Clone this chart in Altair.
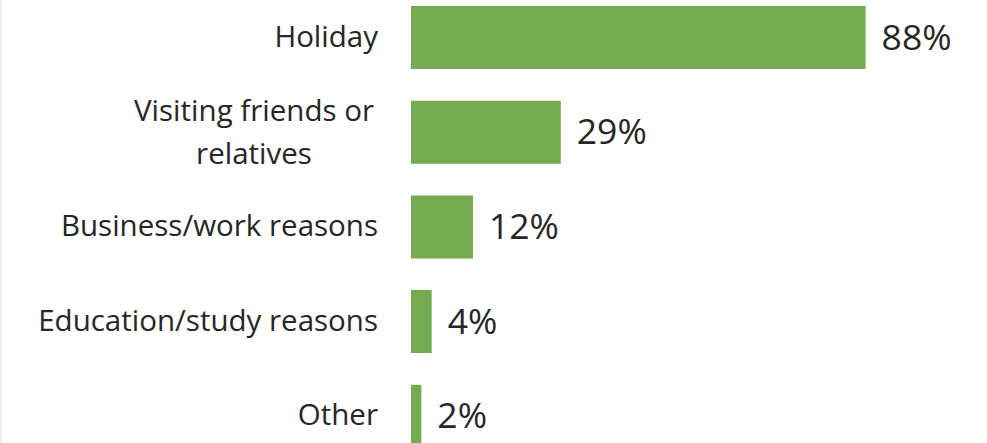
import altair as alt
import pandas as pd

categories = ["Holiday", "Visiting friends or relatives", "Business/work reasons",
              "Education/study reasons", "Other"]
display_labels = ["Holiday", "Visiting friends or\nrelatives", "Business/work reasons",
                  "Education/study reasons", "Other"]
wrapped = [False, True, False, False, False]
values = [88, 29, 12, 4, 2]

df = pd.DataFrame({"category": categories, "display": display_labels,
                   "wrapped": wrapped, "value": values})

FONT = "Open Sans"
GREEN = "#75AB50"
TEXT = "#262626"

yscale = alt.Scale(domain=categories, range=[-9.85, 463.65],
                   paddingInner=0.335, paddingOuter=0.1675)
xscale = alt.Scale(domain=[0, 111.5], nice=False)

base = alt.Chart(df)

bars = base.mark_bar(color=GREEN).encode(
    y=alt.Y("category:N", scale=yscale, axis=None, sort=None),
    x=alt.X("value:Q", scale=xscale, axis=None),
)

vals = base.transform_calculate(lbl="datum.value + '%'").mark_text(
    align="left", baseline="middle", dx=16, dy=1, font=FONT, fontSize=35.5, color=TEXT
).encode(
    y=alt.Y("category:N", scale=yscale, axis=None, sort=None),
    x=alt.X("value:Q", scale=xscale, axis=None),
    text="lbl:N",
)

cat_single = base.transform_filter("!datum.wrapped").mark_text(
    align="right", baseline="middle", font=FONT, fontSize=29.5, color=TEXT
).encode(
    y=alt.Y("category:N", scale=yscale, axis=None, sort=None),
    x=alt.value(-33),
    text="display:N",
)

cat_wrapped = base.transform_filter("datum.wrapped").mark_text(
    align="center", baseline="middle", font=FONT, fontSize=29.5, color=TEXT,
    lineBreak="\n", lineHeight=43, dy=-20.5
).encode(
    y=alt.Y("category:N", scale=yscale, axis=None, sort=None),
    x=alt.value(-157),
    text="display:N",
)

border = alt.Chart(pd.DataFrame({"k": [0]})).mark_rule(color="#D9D9D9", strokeWidth=1).encode(
    x=alt.value(-410), y=alt.value(0), y2=alt.value(443)
)

chart = alt.layer(border, bars, vals, cat_single, cat_wrapped).properties(
    width=576, height=443,
    autosize=alt.AutoSizeParams(type="none"),
    padding={"left": 411, "top": 0, "right": 0, "bottom": 0},
).configure_view(stroke=None)

chart.save("out.html", embed_options={"renderer": "svg", "actions": False})
